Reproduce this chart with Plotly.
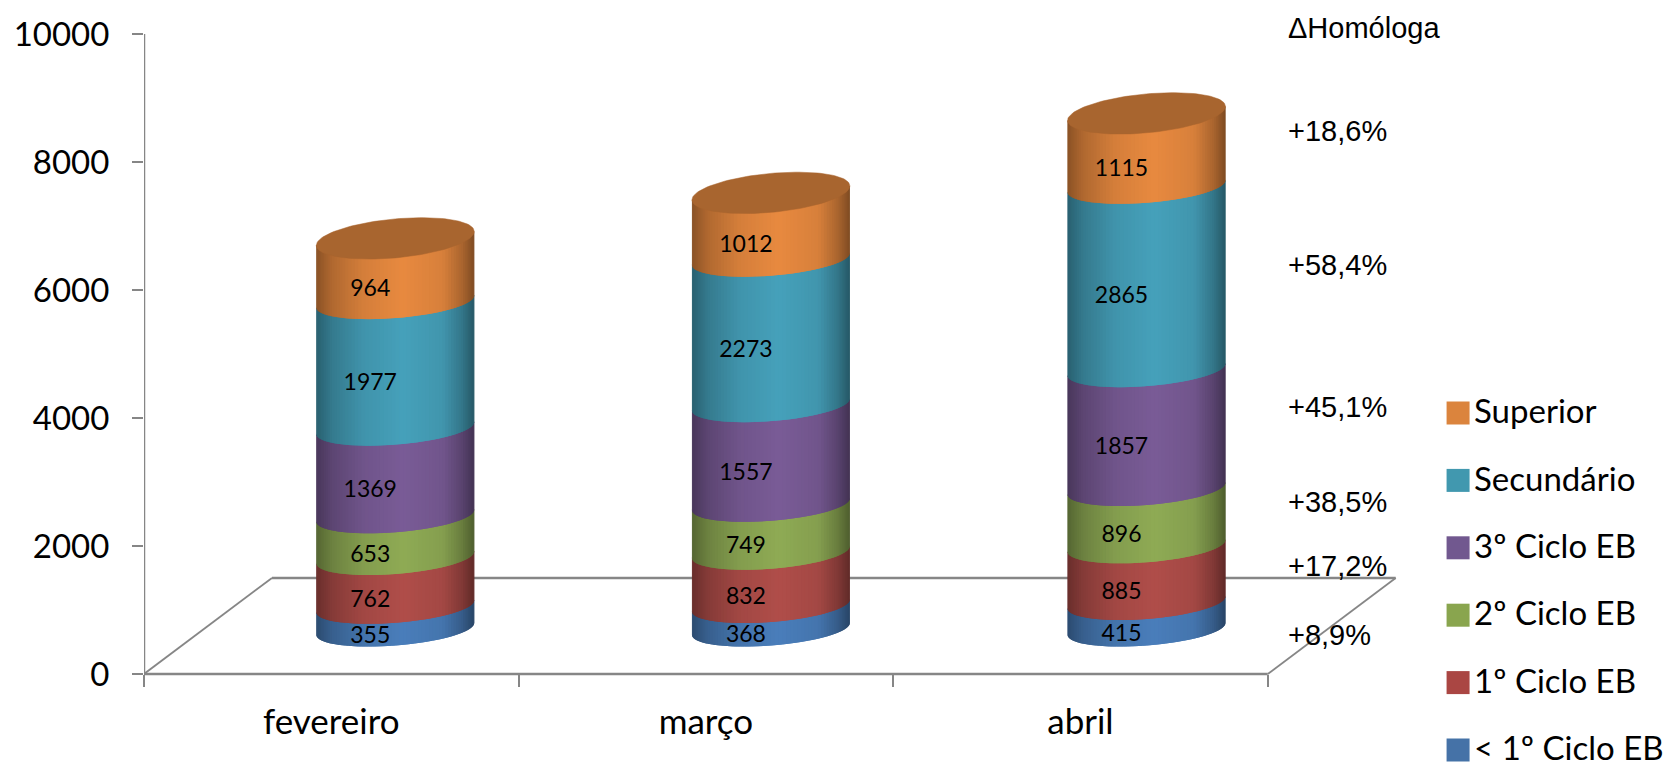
import numpy as np
import plotly.graph_objects as go

months = ["fevereiro", "março", "abril"]
below_first = [355, 368, 415]
first_cycle = [762, 832, 885]
second_cycle = [653, 749, 896]
third_cycle = [1369, 1557, 1857]
secondary = [1977, 2273, 2865]
higher = [964, 1012, 1115]

series_names = ["< 1º Ciclo EB", "1º Ciclo EB", "2º Ciclo EB", "3º Ciclo EB", "Secundário", "Superior"]
series_values = [below_first, first_cycle, second_cycle, third_cycle, secondary, higher]
swatch_colors = ["#4572A7", "#AA4643", "#89A54E", "#71588F", "#4198AF", "#DB843D"]
bright_colors = [(74, 126, 187), (176, 78, 74), (143, 171, 85), (122, 92, 151), (70, 161, 187), (232, 138, 64)]
cap_color = "#A8652F"

delta_header = "ΔHomóloga"
delta_labels = ["+18,6%", "+58,4%", "+45,1%", "+38,5%", "+17,2%", "+8,9%"]
delta_levels = [131, 265, 407, 502, 566, 635]

WIDTH, HEIGHT = 1670, 764
LEFT, AXIS_END, TOP, BOTTOM = 143.5, 1267.6, 34, 674
PX_X = (AXIS_END - LEFT) / 3       # pixels per category
PX_Y = (BOTTOM - TOP) / 10000      # pixels per unit of value
X_MIN, X_AXIS_END = -0.5, 2.5
X_MAX = X_MIN + (WIDTH - LEFT) / PX_X
Y_MIN = -(HEIGHT - BOTTOM) / PX_Y   # the plot area runs to the page foot so the key can sit there
ZERO_POS = -Y_MIN / (10000 - Y_MIN)

AXIS_GREY = "#868686"
DEPTH_X = 128 / PX_X
DEPTH_Y = 1500
CYL_SHIFT = 64 / PX_X
CYL_STEP = 1.0028                  # cylinders sit slightly wider apart than the ticks
CYL_HALF = 79 / PX_X
TILT = 6 / PX_Y                    # ellipse tilt, rising to the right
ARC = 16.5 / PX_Y                  # height of a band's front arc
BASE = 45 / PX_Y                   # cylinder base centre above the axis
CAP_LIFT = 1.5 / PX_Y
CAP_TILT = 7 / PX_Y
CAP_ARC = 19.5 / PX_Y
SEAM = 0.8 / PX_Y                  # bands tuck under the one above

STRIPS = 64
theta = np.linspace(-np.pi / 2, np.pi / 2, STRIPS + 1)
edge = np.sin(theta)


def shade(u):
    """Brightness across the cylinder, u from -1 (left) to 1 (right)."""
    return np.interp((u + 1) / 2,
                     [0, 0.1, 0.3, 0.55, 0.8, 0.92, 1],
                     [0.60, 0.76, 0.92, 1.0, 0.93, 0.74, 0.55])


def centre(m):
    return m * CYL_STEP + CYL_SHIFT


fig = go.Figure()

# Value axis, category axis and floor, all behind the cylinders
fig.add_trace(go.Scatter(x=[X_MIN, X_MIN], y=[0, 10000], mode="lines",
                         line=dict(color=AXIS_GREY, width=2.5), cliponaxis=False,
                         hoverinfo="skip", showlegend=False))
fig.add_trace(go.Scatter(x=[X_MIN, X_AXIS_END], y=[0, 0], mode="lines",
                         line=dict(color=AXIS_GREY, width=2.5), cliponaxis=False,
                         hoverinfo="skip", showlegend=False))
fig.add_trace(go.Scatter(x=[X_MIN + DEPTH_X, X_AXIS_END + DEPTH_X], y=[DEPTH_Y, DEPTH_Y], mode="lines",
                         line=dict(color=AXIS_GREY, width=2.6), cliponaxis=False,
                         hoverinfo="skip", showlegend=False))
for x0 in (X_MIN, X_AXIS_END):
    fig.add_trace(go.Scatter(x=[x0, x0 + DEPTH_X], y=[0, DEPTH_Y], mode="lines",
                             line=dict(color=AXIS_GREY, width=1.8), cliponaxis=False,
                             hoverinfo="skip", showlegend=False))

totals = np.sum(series_values, axis=0)
bases = np.cumsum([[0] * 3] + series_values, axis=0)


def front(level, u):
    return level + BASE + TILT * u - ARC * np.sqrt(np.clip(1 - u ** 2, 0, 1))


# Cylinder bands: one filled trace per shade strip, each holding all three months.
# Every strip also runs under the next one so no seams show between them.
for s, (name, rgb) in enumerate(zip(series_names, bright_colors)):
    for j in range(STRIPS):
        us = edge[j:j + 3]
        k = shade((edge[j] + edge[j + 1]) / 2)
        color = "rgb({},{},{})".format(*(int(c * k) for c in rgb))
        xs, ys = [], []
        for m in range(len(months)):
            cx = centre(m)
            lo, hi = bases[s][m], bases[s + 1][m]
            if s == len(series_names) - 1:
                tops = [hi + BASE + CAP_LIFT + CAP_TILT * u for u in us]
            else:
                tops = [front(hi, u) + SEAM for u in us]
            xs += [cx + CYL_HALF * u for u in us] + [cx + CYL_HALF * u for u in us[::-1]] + [None]
            ys += [front(lo, u) for u in us] + tops[::-1] + [None]
        fig.add_trace(go.Scatter(x=xs, y=ys, mode="lines", fill="toself", fillcolor=color,
                                 line=dict(width=0), hoverinfo="skip",
                                 showlegend=False, name=name))

# Top faces
phi = np.linspace(0, 2 * np.pi, 121)
cap_x, cap_y = [], []
for m, total in enumerate(totals):
    cap_x += list(centre(m) + CYL_HALF * np.cos(phi)) + [None]
    cap_y += list(total + BASE + CAP_LIFT + CAP_TILT * np.cos(phi) + CAP_ARC * np.sin(phi)) + [None]
fig.add_trace(go.Scatter(x=cap_x, y=cap_y, mode="lines", fill="toself", fillcolor=cap_color,
                         line=dict(color=cap_color, width=0.5), hoverinfo="skip", showlegend=False))

# Value labels sit on the front of each band
for s, values in enumerate(series_values):
    fig.add_trace(go.Scatter(
        x=[centre(m) - 25 / PX_X for m in range(len(months))],
        y=[bases[s][m] + values[m] / 2 + BASE - 19.5 / PX_Y for m in range(len(months))],
        mode="text", text=[str(v) for v in values], textposition="middle center",
        textfont=dict(family="Lato", size=23, color="#000000"),
        hoverinfo="skip", showlegend=False, cliponaxis=False))

# Key at the right: squares with their level names, top level first
key_x = (1458 - LEFT) / PX_X + X_MIN
key_text_x = (1474 - LEFT) / PX_X + X_MIN
for i, (name, color) in enumerate(zip(series_names, swatch_colors)):
    row = (BOTTOM - (750 - i * 67.4)) / PX_Y
    fig.add_trace(go.Scatter(x=[key_x], y=[row], mode="markers",
                             marker=dict(symbol="square", size=23, color=color, line=dict(width=0)),
                             hoverinfo="skip", showlegend=False, cliponaxis=False))
    fig.add_trace(go.Scatter(x=[key_text_x], y=[row - 2 / PX_Y], mode="text", text=[name],
                             textposition="middle right",
                             textfont=dict(family="Lato", size=33, color="#000000"),
                             hoverinfo="skip", showlegend=False, cliponaxis=False))

label_x = (1286 - LEFT) / (WIDTH - LEFT)
label_y = lambda px: (HEIGHT - px) / (HEIGHT - TOP)
annotations = [dict(text=delta_header, xref="paper", yref="paper", x=label_x,
                    y=label_y(28), xanchor="left", yanchor="middle", showarrow=False,
                    font=dict(family="Liberation Sans", size=29, color="#000000"))]
for label, level in zip(delta_labels, delta_levels):
    annotations.append(dict(text=label, xref="paper", yref="paper", x=label_x,
                            y=label_y(level), xanchor="left", yanchor="middle",
                            showarrow=False, font=dict(family="Liberation Sans", size=29, color="#000000")))

fig.update_layout(
    width=WIDTH, height=HEIGHT,
    margin=dict(l=LEFT, r=0, t=TOP, b=0, pad=0, autoexpand=False),
    paper_bgcolor="#FFFFFF", plot_bgcolor="#FFFFFF", showlegend=False,
    annotations=annotations,
    xaxis=dict(range=[X_MIN, X_MAX], anchor="free", position=ZERO_POS,
               tickmode="array", tickvals=[0, 1, 2], ticktext=months,
               ticks="", showgrid=False, zeroline=False, showline=False,
               tickfont=dict(family="Lato", size=35, color="#000000"), ticklabelstandoff=24,
               minor=dict(tickmode="array", tickvals=[-0.5, 0.5, 1.5, 2.5], ticks="outside", ticklen=12,
                          tickwidth=2, tickcolor=AXIS_GREY, showgrid=False)),
    yaxis=dict(range=[Y_MIN, 10000], tickmode="array", tickvals=list(range(0, 10001, 2000)),
               ticktext=[str(v) for v in range(0, 10001, 2000)],
               ticks="outside", ticklen=11, tickwidth=2, tickcolor=AXIS_GREY,
               showgrid=False, zeroline=False, showline=False,
               tickfont=dict(family="Lato", size=33, color="#000000"), ticklabelstandoff=16),
)

fig.write_html("out.html")
